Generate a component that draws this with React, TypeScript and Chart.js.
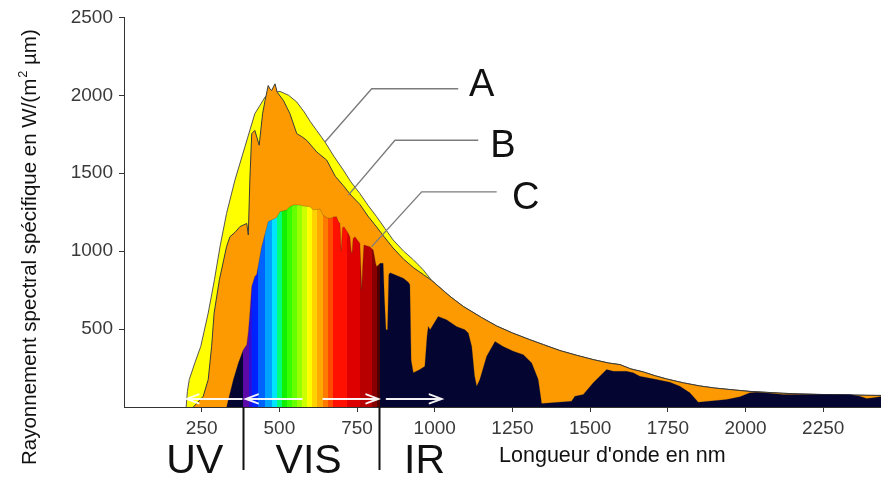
import React, { useEffect, useRef } from 'react';
import { Chart, registerables } from 'chart.js';

Chart.register(...registerables);

// ---- Data (wavelength in nm, spectral irradiance in W/(m² µm)) ----
// A : yellow envelope (head, before it merges with B)
const waveA = [200, 204, 210, 228, 247, 271, 291, 309, 330, 357, 389, 421, 454, 480, 502, 530, 556, 580, 600, 620, 647, 675, 706, 730, 759, 785, 813, 840, 866, 900, 931, 963, 990];
const fluxA = [0, 100, 176, 283, 389, 603, 816, 1029, 1242, 1456, 1669, 1882, 1989, 2018, 2025, 2000, 1957, 1893, 1830, 1775, 1700, 1610, 1520, 1445, 1370, 1295, 1221, 1145, 1072, 1000, 945, 880, 812];

// B : orange curve (head)
const waveB = [223, 255, 271, 282, 290, 307, 330, 341, 357, 373, 395, 400, 405, 411, 421, 435, 446, 454, 464, 470, 475, 486, 493, 513, 534, 556, 572, 588, 620, 652, 680, 706, 730, 759, 785, 813, 840, 866, 900, 931, 963, 990];
const fluxB = [0, 69, 176, 389, 603, 816, 1029, 1093, 1120, 1157, 1178, 1104, 1456, 1754, 1775, 1680, 1882, 1967, 2063, 2040, 2031, 2074, 2020, 1967, 1882, 1754, 1735, 1711, 1637, 1585, 1480, 1420, 1360, 1300, 1225, 1155, 1085, 1020, 948, 895, 850, 812];

// common tail of A and B (IR)
const waveTail = [1000, 1049, 1092, 1150, 1199, 1250, 1306, 1350, 1403, 1460, 1510, 1560, 1596, 1630, 1671, 1710, 1746, 1800, 1853, 1900, 1960, 2014, 2068, 2121, 2175, 2229, 2282, 2336, 2390, 2440];
const fluxTail = [795, 710, 645, 575, 520, 475, 432, 400, 362, 330, 304, 282, 272, 245, 225, 200, 180, 155, 135, 122, 110, 100, 94, 88, 84, 81, 79, 77, 75, 74];

// C : sea-level spectrum (navy + visible rainbow)
const waveC = [330, 340, 352, 368, 384, 395, 400, 405, 411, 421, 427, 443, 455, 464, 470, 491, 502, 523, 534, 545, 566, 577, 598, 609, 631, 641, 652, 663, 675, 684, 690, 695, 699, 703, 708, 720, 727, 731, 734, 737, 743, 759, 762, 765, 768, 772, 791, 802, 810, 813, 818, 824, 834, 838, 843, 848, 852, 856, 899, 915, 920, 924, 931, 952, 968, 975, 979, 985, 1011, 1038, 1070, 1097, 1108, 1119, 1128, 1135, 1145, 1167, 1194, 1220, 1253, 1285, 1312, 1333, 1344, 1440, 1451, 1478, 1510, 1553, 1575, 1617, 1639, 1660, 1714, 1757, 1789, 1821, 1848, 1939, 1982, 2014, 2036, 2080, 2121, 2229, 2336, 2368, 2390, 2411, 2440];
const fluxC = [0, 80, 176, 283, 368, 400, 480, 600, 773, 837, 850, 1029, 1120, 1189, 1195, 1215, 1253, 1264, 1285, 1296, 1296, 1290, 1285, 1265, 1270, 1230, 1215, 1210, 1220, 1221, 1190, 1178, 1000, 1150, 1157, 1120, 1093, 1000, 986, 1080, 1093, 1050, 900, 752, 900, 1040, 1029, 1008, 920, 901, 910, 922, 922, 700, 496, 496, 848, 862, 826, 800, 784, 300, 219, 240, 261, 450, 517, 496, 581, 560, 517, 496, 475, 389, 200, 133, 176, 325, 421, 389, 357, 336, 283, 176, 22, 37, 69, 80, 155, 240, 229, 229, 219, 197, 176, 159, 133, 91, 31, 48, 65, 91, 95, 88, 80, 80, 80, 69, 54, 59, 69];

// visible rainbow bands (edges in nm)
const bandEdges = [383, 402, 411, 432, 453, 475, 491, 507, 524, 540, 556, 572, 588, 604, 622, 640, 657, 673, 716, 759, 797, 813, 824];
const bandColors = ['#5b0aa8', '#2a10d8', '#0022ff', '#0062ff', '#00a2ff', '#00e4ff', '#00ff78', '#10f000', '#38ff00', '#66ff00', '#98ff00', '#ccff00', '#ffff00', '#ffd200', '#ffaa00', '#ff7a00', '#ff4a00', '#ff1000', '#de0000', '#b80000', '#880000', '#4e0000'];

// axis
const xMin = 0;
const xMax = 2436;
const xStep = 250;
const yMin = 0;
const yMax = 2500;
const yStep = 500;

// annotations
const regionLabels = ['UV', 'VIS', 'IR'];
const regionCenters = [228, 594, 967];
const regionSeparators = [384, 820];
const arrowLevel = 52;
const arrowFrom = [378.7, 571.8, 641.3, 845.2];
const arrowTo = [201.7, 392.5, 818.2, 1022];
const curveNames = ['A', 'B', 'C'];
const curveLabelX = [1151, 1219, 1293];
const curveLabelY = [1993, 1605, 1273];
const leaderStartX = [1075.6, 1140, 1199.2];
const leaderElbowX = [797, 872, 957.9];
const leaderLevel = [2042, 1711.5, 1380.7];
const leaderEndX = [646.7, 721.7, 797];
const leaderEndY = [1700.6, 1359.6, 1029];

const xTitle = "Longueur d'onde en nm";
const yTitleMain = 'Rayonnement spectral spécifique en W/(m';
const yTitleSup = '2';
const yTitleEnd = ' µm)';

const FONT = '"Liberation Sans", Arial, Helvetica, sans-serif';
const NAVY = '#050532';

const toPoints = (xs: number[], ys: number[]) => xs.map((x, i) => ({ x, y: ys[i] }));

function spectrumFill(chart: any) {
  const { ctx, chartArea, scales } = chart;
  if (!chartArea || !scales || !scales.x) return NAVY;
  const x0 = chartArea.left;
  const x1 = chartArea.right;
  const g = ctx.createLinearGradient(x0, 0, x1, 0);
  const pos = (nm: number) => Math.min(1, Math.max(0, (scales.x.getPixelForValue(nm) - x0) / (x1 - x0)));
  g.addColorStop(0, NAVY);
  for (let i = 0; i < bandColors.length; i++) {
    const p0 = pos(bandEdges[i]);
    const p1 = pos(bandEdges[i + 1]);
    if (i === 0) g.addColorStop(p0, NAVY);
    g.addColorStop(p0, bandColors[i]);
    g.addColorStop(p1, bandColors[i]);
  }
  g.addColorStop(pos(bandEdges[bandEdges.length - 1]), NAVY);
  g.addColorStop(1, NAVY);
  return g;
}

const annotationPlugin = {
  id: 'spectrumAnnotations',
  afterDraw(chart: any) {
    const { ctx, chartArea, scales } = chart;
    const X = (v: number) => scales.x.getPixelForValue(v);
    const Y = (v: number) => scales.y.getPixelForValue(v);
    const bottom = chartArea.bottom;
    ctx.save();

    // white arrows
    ctx.strokeStyle = 'rgba(255,255,255,0.95)';
    ctx.lineWidth = 2;
    ctx.lineCap = 'round';
    const ay = Y(arrowLevel);
    for (let i = 0; i < arrowFrom.length; i++) {
      const a = X(arrowFrom[i]);
      const b = X(arrowTo[i]);
      const d = b > a ? 1 : -1;
      ctx.beginPath();
      ctx.moveTo(a, ay);
      ctx.lineTo(b, ay);
      ctx.moveTo(b - d * 12, ay - 4.5);
      ctx.lineTo(b, ay);
      ctx.lineTo(b - d * 12, ay + 4.5);
      ctx.stroke();
    }

    // leader lines
    ctx.strokeStyle = '#7c7c7c';
    ctx.lineWidth = 1.4;
    ctx.lineCap = 'butt';
    for (let i = 0; i < curveNames.length; i++) {
      ctx.beginPath();
      ctx.moveTo(X(leaderStartX[i]), Y(leaderLevel[i]));
      ctx.lineTo(X(leaderElbowX[i]), Y(leaderLevel[i]));
      ctx.lineTo(X(leaderEndX[i]), Y(leaderEndY[i]));
      ctx.stroke();
    }

    // curve letters
    ctx.fillStyle = '#111';
    ctx.font = `38px ${FONT}`;
    ctx.textAlign = 'center';
    ctx.textBaseline = 'alphabetic';
    for (let i = 0; i < curveNames.length; i++) {
      ctx.fillText(curveNames[i], X(curveLabelX[i]), Y(curveLabelY[i]));
    }

    // separators under the axis
    ctx.strokeStyle = '#111';
    ctx.lineWidth = 2;
    for (const nm of regionSeparators) {
      const px = Math.round(X(nm)) + 0.5;
      ctx.beginPath();
      ctx.moveTo(px, bottom);
      ctx.lineTo(px, bottom + 63);
      ctx.stroke();
    }

    // region labels
    ctx.font = `41px ${FONT}`;
    ctx.fillStyle = '#111';
    for (let i = 0; i < regionLabels.length; i++) {
      ctx.fillText(regionLabels[i], X(regionCenters[i]), bottom + 66);
    }

    // x title
    ctx.font = `21.5px ${FONT}`;
    ctx.textAlign = 'left';
    ctx.fillText(xTitle, X(1207), bottom + 54.7);

    // y title (rotated, with superscript)
    const fs = 20.5;
    ctx.translate(36, 465);
    ctx.rotate(-Math.PI / 2);
    ctx.textAlign = 'left';
    ctx.font = `${fs}px ${FONT}`;
    ctx.fillText(yTitleMain, 0, 0);
    let w = ctx.measureText(yTitleMain).width + 1;
    ctx.font = `${fs * 0.62}px ${FONT}`;
    ctx.fillText(yTitleSup, w, -fs * 0.42);
    w += ctx.measureText(yTitleSup).width;
    ctx.font = `${fs}px ${FONT}`;
    ctx.fillText(yTitleEnd, w, 0);

    ctx.restore();
  },
};

export default function App() {
  const ref = useRef<HTMLCanvasElement | null>(null);

  useEffect(() => {
    if (!ref.current) return;
    const tickFont = { family: FONT, size: 19 };
    const hideZero = (c: any) => (c.tick && c.tick.value === 0 ? 'rgba(0,0,0,0)' : '#333');
    const chart = new Chart(ref.current, {
      type: 'line',
      data: {
        datasets: [
          {
            label: 'C',
            data: toPoints(waveC, fluxC),
            fill: 'origin',
            backgroundColor: (c: any) => spectrumFill(c.chart),
            borderColor: 'rgba(40,40,40,0.35)',
            borderWidth: 0.7,
            pointRadius: 0,
            order: 1,
          },
          {
            label: 'B',
            data: toPoints(waveB.concat(waveTail), fluxB.concat(fluxTail)),
            fill: 'origin',
            backgroundColor: '#fd9a02',
            borderColor: '#3a3a3a',
            borderWidth: 1,
            pointRadius: 0,
            order: 2,
          },
          {
            label: 'A',
            data: toPoints(waveA.concat(waveTail), fluxA.concat(fluxTail)),
            fill: 'origin',
            backgroundColor: '#ffff00',
            borderColor: '#555',
            borderWidth: 1,
            pointRadius: 0,
            order: 3,
          },
        ],
      },
      options: {
        animation: false,
        responsive: false,
        devicePixelRatio: 1,
        layout: { padding: { top: 17, right: 0, left: 0, bottom: 0 } },
        plugins: {
          legend: { display: false },
          tooltip: { enabled: false },
          title: { display: false },
        },
        elements: { line: { tension: 0 }, point: { radius: 0 } },
        scales: {
          x: {
            type: 'linear',
            min: xMin,
            max: xMax,
            afterFit: (s: any) => {
              s.height = 70;
            },
            ticks: {
              stepSize: xStep,
              includeBounds: false,
              autoSkip: false,
              maxRotation: 0,
              padding: 5,
              color: '#3a3a3a',
              font: tickFont,
              callback: (v: any) => (v === 0 ? '' : String(v)),
            },
            grid: { drawOnChartArea: false, drawTicks: true, tickLength: 5, tickColor: hideZero },
            border: { color: '#333', width: 1 },
          },
          y: {
            min: yMin,
            max: yMax,
            afterFit: (s: any) => {
              s.width = 124;
            },
            ticks: {
              stepSize: yStep,
              padding: 6,
              color: '#3a3a3a',
              font: tickFont,
              callback: (v: any) => (v === 0 ? '' : String(v)),
            },
            grid: { drawOnChartArea: false, drawTicks: true, tickLength: 5, tickColor: hideZero },
            border: { color: '#333', width: 1 },
          },
        },
      },
      plugins: [annotationPlugin],
    } as any);
    return () => chart.destroy();
  }, []);

  return (
    <div style={{ position: 'absolute', left: 0, top: 0, width: 881, height: 477, background: '#fff' }}>
      <canvas ref={ref} width={881} height={477} style={{ display: 'block' }} />
    </div>
  );
}
